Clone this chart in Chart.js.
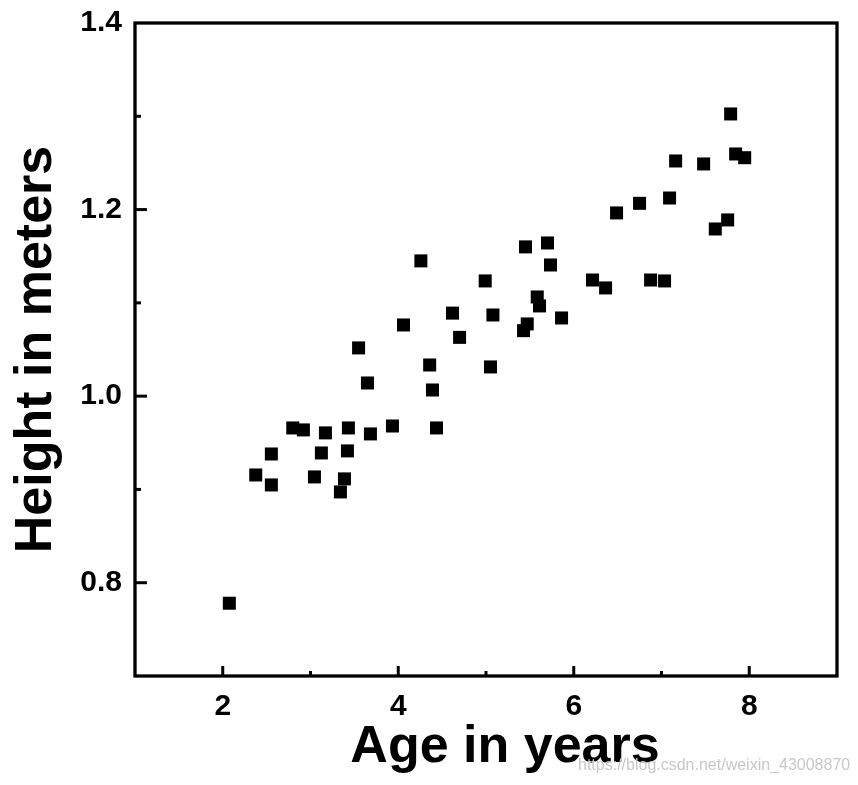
<!DOCTYPE html>
<html>
<head>
<meta charset="utf-8">
<script src="https://cdn.jsdelivr.net/npm/chart.js@4"></script>
<style>
  body { margin: 0; background: #fff; }
  #wrap { position: relative; width: 858px; height: 785px; }
  #mark { position: absolute; left: 578px; top: 756px; font: 16px "Liberation Sans", Arial, sans-serif; color: #c8c8c8; white-space: nowrap; }
</style>
</head>
<body>
<div id="wrap">
  <canvas id="myChart"></canvas>
  <div id="mark">https://blog.csdn.net/weixin_43008870</div>
</div>
<script>
const ages = [2.075, 2.376, 2.554, 2.554, 2.798, 2.919, 3.045, 3.124, 3.17, 3.341,
  3.387, 3.421, 3.432, 3.548, 3.649, 3.683, 3.934, 4.06, 4.258, 4.358,
  4.39, 4.436, 4.618, 4.699, 4.991, 5.051, 5.079, 5.428, 5.45, 5.47,
  5.584, 5.61, 5.701, 5.735, 5.861, 6.214, 6.363, 6.488, 6.75, 6.876,
  7.035, 7.092, 7.161, 7.48, 7.613, 7.754, 7.788, 7.845, 7.948];
const heights = [0.778, 0.9155, 0.938, 0.9048, 0.9659, 0.9638, 0.9134, 0.9391, 0.9606, 0.8973,
  0.9113, 0.9413, 0.9659, 1.0517, 1.0141, 0.9595, 0.968, 1.0763, 1.145, 1.0334,
  1.0066, 0.9659, 1.089, 1.063, 1.1235, 1.0313, 1.087, 1.0702, 1.16, 1.0774,
  1.1063, 1.0967, 1.1642, 1.1406, 1.0838, 1.1245, 1.116, 1.1964, 1.2067, 1.1245,
  1.1235, 1.2124, 1.2521, 1.2489, 1.1792, 1.1889, 1.3025, 1.2596, 1.2556];
const xLabels = [2, 4, 6, 8];
const yLabels = ['0.8', '1.0', '1.2', '1.4'];

const ctx = document.getElementById('myChart');
const font = '"Liberation Sans", Arial, sans-serif';

// frame + inward ticks (major ones carry a label, minor ones don't)
const framePlugin = {
  id: 'frame',
  afterLayout(chart) {
    // x title sits a bit right of the plot centre in the original
    chart.scales.x.left += 19;
    chart.scales.x.right += 19;
  },
  afterDraw(chart) {
    const c = chart.ctx;
    const a = chart.chartArea;
    c.save();
    c.strokeStyle = '#000';
    c.lineWidth = 3.3;
    c.strokeRect(a.left, a.top, a.right - a.left, a.bottom - a.top);
    c.lineWidth = 3;
    const xs = chart.scales.x, ys = chart.scales.y;
    xs.ticks.forEach(t => {
      if (t.value <= xs.min || t.value >= xs.max) return;
      const px = xs.getPixelForValue(t.value);
      const len = t.label !== '' ? 10 : 5;
      c.beginPath(); c.moveTo(px, a.bottom); c.lineTo(px, a.bottom - len); c.stroke();
    });
    ys.ticks.forEach(t => {
      if (t.value <= ys.min || t.value >= ys.max) return;
      const py = ys.getPixelForValue(t.value);
      const len = t.label !== '' ? 12 : 6;
      c.beginPath(); c.moveTo(a.left, py); c.lineTo(a.left + len, py); c.stroke();
    });
    c.restore();
  }
};

new Chart(ctx, {
  type: 'scatter',
  data: {
    datasets: [{
      label: 'Height',
      data: ages.map((x, i) => ({ x: x, y: heights[i] })),
      pointStyle: 'rect',
      pointRadius: 9.2,
      pointHoverRadius: 9.2,
      borderWidth: 0,
      backgroundColor: '#000'
    }]
  },
  options: {
    responsive: true,
    maintainAspectRatio: false,
    animation: false,
    layout: { padding: { top: 23, right: 21, left: 0, bottom: 0 } },
    plugins: {
      legend: { display: false },
      tooltip: { enabled: false }
    },
    scales: {
      x: {
        type: 'linear',
        min: 1,
        max: 9,
        grid: { display: false },
        border: { display: false },
        ticks: {
          stepSize: 1,
          autoSkip: false,
          maxRotation: 0,
          padding: 5,
          color: '#000',
          font: { family: font, size: 30, weight: 'bold' },
          callback: v => xLabels.includes(v) ? String(v) : ''
        },
        title: {
          display: true,
          text: 'Age in years',
          color: '#000',
          padding: { top: 0, bottom: 6 },
          font: { family: font, size: 52, weight: 'bold' }
        },
        afterFit: s => { s.height = 109; s.paddingLeft = 0; s.paddingRight = 0; }
      },
      y: {
        type: 'linear',
        min: 0.7,
        max: 1.4,
        grid: { display: false },
        border: { display: false },
        ticks: {
          stepSize: 0.1,
          autoSkip: false,
          padding: 5,
          color: '#000',
          font: { family: font, size: 30, weight: 'bold' },
          callback: v => {
            const s = v.toFixed(1);
            return yLabels.includes(s) ? s : '';
          }
        },
        title: {
          display: true,
          text: 'Height in meters',
          color: '#000',
          padding: { top: 5, bottom: 0 },
          font: { family: font, size: 52, weight: 'bold' }
        },
        afterFit: s => { s.width = 135; s.paddingTop = 0; s.paddingBottom = 0; }
      }
    }
  },
  plugins: [framePlugin]
});
</script>
</body>
</html>
